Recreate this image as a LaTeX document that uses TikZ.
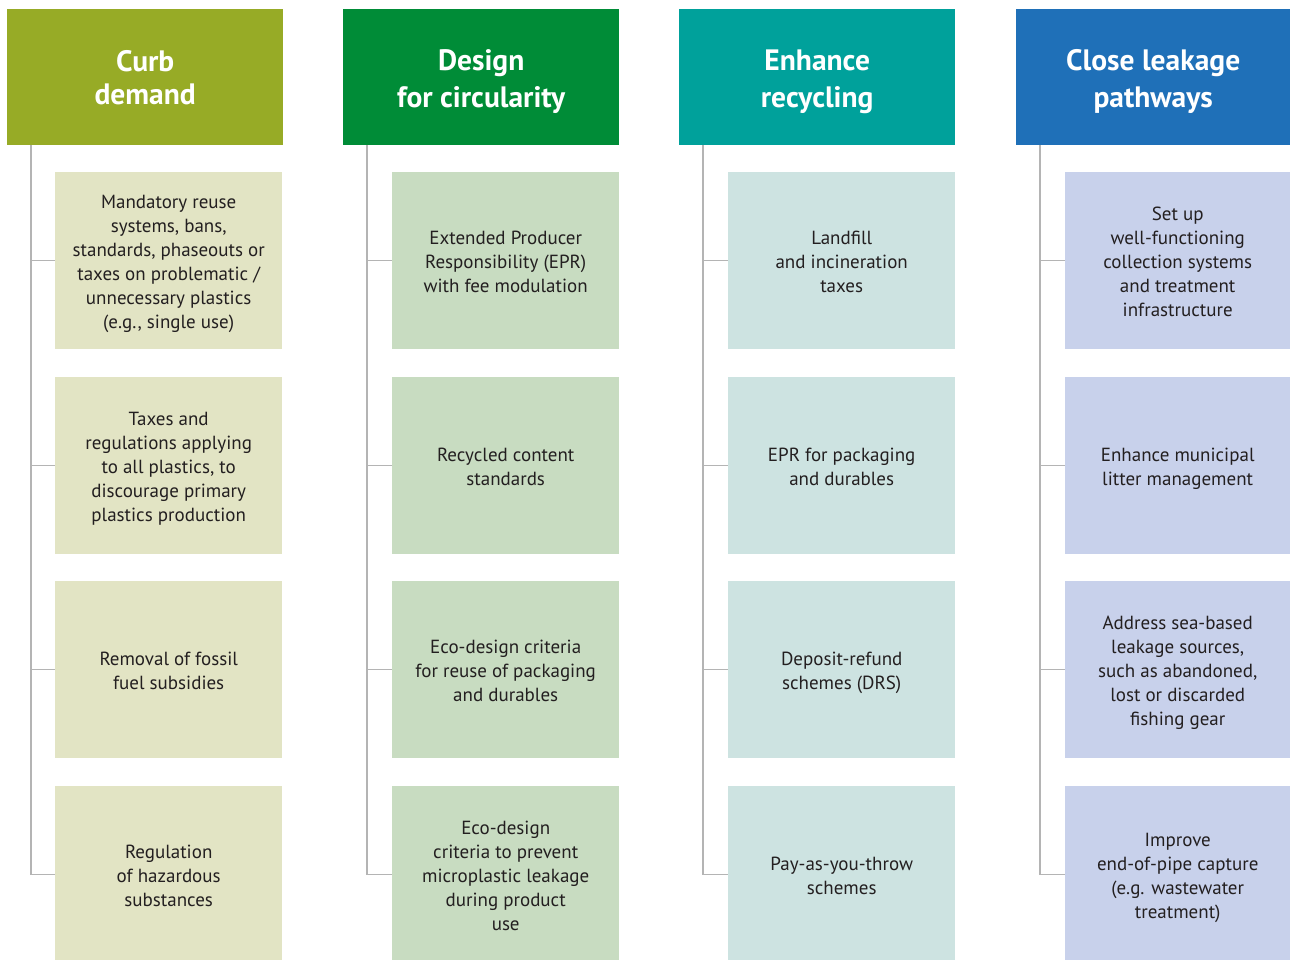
\documentclass[tikz,border=0pt]{standalone}
\usepackage{fontspec}
\setmainfont{PT Sans}
\usetikzlibrary{calc}
\definecolor{hdA}{HTML}{97AB26}
\definecolor{hdB}{HTML}{008C37}
\definecolor{hdC}{HTML}{00A19B}
\definecolor{hdD}{HTML}{1F70B8}
\definecolor{bxA}{HTML}{E2E4C4}
\definecolor{bxB}{HTML}{C8DCC1}
\definecolor{bxC}{HTML}{CDE3E1}
\definecolor{bxD}{HTML}{C8D1EB}
\definecolor{ink}{HTML}{231F20}
\definecolor{trunk}{HTML}{B4B4B4}
% centred lines, drawn a little lower than the box centre
\newcommand{\lowered}[2]{\raisebox{-#1}[\height][\depth]{\begin{tabular}{@{}c@{}}#2\end{tabular}}}
\newcommand{\hd}[1]{\lowered{4pt}{#1}}
\newcommand{\cd}[1]{\lowered{3pt}{#1}}
\tikzset{
  header/.style={anchor=north west, minimum width=276, minimum height=136,
    inner sep=0pt, text=white,
    font=\fontsize{29.5}{37}\selectfont\bfseries},
  card/.style={anchor=north west, minimum width=227, minimum height=177,
    inner sep=0pt, text=ink,
    font=\fontsize{19}{24}\selectfont},
  branch/.style={draw=trunk, line width=1.5pt}
}
\begin{document}
\begin{tikzpicture}[x=1pt,y=-1pt]
\useasboundingbox (0,0) rectangle (1290,960);

% column headers
\node[header, fill=hdA, font=\fontsize{29.5}{33}\selectfont\bfseries] (h1) at (7,9) {\hd{Curb\\demand}};
\node[header, fill=hdB] (h2) at (343,9)  {\hd{Design\\for circularity}};
\node[header, fill=hdC] (h3) at (679,9)  {\hd{Enhance\\recycling}};
\node[header, fill=hdD, minimum width=274] (h4) at (1016,9) {\hd{Close leakage\\pathways}};

% Curb demand
\node[card, fill=bxA] (a1) at (55,172) {\cd{Mandatory reuse\\systems, bans,\\standards, phaseouts or\\taxes on problematic /\\unnecessary plastics\\(e.g., single use)}};
\node[card, fill=bxA] (a2) at (55,377) {\cd{Taxes and\\regulations applying\\to all plastics, to\\discourage primary\\plastics production}};
\node[card, fill=bxA] (a3) at (55,581) {\cd{Removal of fossil\\fuel subsidies}};
\node[card, fill=bxA] (a4) at (55,786) {\cd{Regulation\\of hazardous\\substances}};

% Design for circularity
\node[card, fill=bxB] (b1) at (392,172) {\cd{Extended Producer\\Responsibility (EPR)\\with fee modulation}};
\node[card, fill=bxB] (b2) at (392,377) {\cd{Recycled content\\standards}};
\node[card, fill=bxB] (b3) at (392,581) {\cd{Eco-design criteria\\for reuse of packaging\\and durables}};
\node[card, fill=bxB] (b4) at (392,786) {\cd{Eco-design\\criteria to prevent\\microplastic leakage\\during product\\use}};

% Enhance recycling
\node[card, fill=bxC] (c1) at (728,172) {\cd{Landfill\\and incineration\\taxes}};
\node[card, fill=bxC] (c2) at (728,377) {\cd{EPR for packaging\\and durables}};
\node[card, fill=bxC] (c3) at (728,581) {\cd{Deposit-refund\\schemes (DRS)}};
\node[card, fill=bxC] (c4) at (728,786) {\cd{Pay-as-you-throw\\schemes}};

% Close leakage pathways
\node[card, fill=bxD, minimum width=225] (d1) at (1065,172) {\cd{Set up\\well-functioning\\collection systems\\and treatment\\infrastructure}};
\node[card, fill=bxD, minimum width=225] (d2) at (1065,377) {\cd{Enhance municipal\\litter management}};
\node[card, fill=bxD, minimum width=225] (d3) at (1065,581) {\cd{Address sea-based\\leakage sources,\\such as abandoned,\\lost or discarded\\fishing gear}};
\node[card, fill=bxD, minimum width=225] (d4) at (1065,786) {\cd{Improve\\end-of-pipe capture\\(e.g. wastewater\\treatment)}};

% trunks and branches
\foreach \h/\col in {h1/a, h2/b, h3/c, h4/d} {
  \coordinate (\h top) at ($(\h.south west)+(24,0)$);
  \draw[branch] (\h top) -- ++(0,730);
  \foreach \r in {1,2,3,4}
    \draw[branch] (\h top |- \col\r.west) -- (\col\r.west);
}
\end{tikzpicture}
\end{document}
